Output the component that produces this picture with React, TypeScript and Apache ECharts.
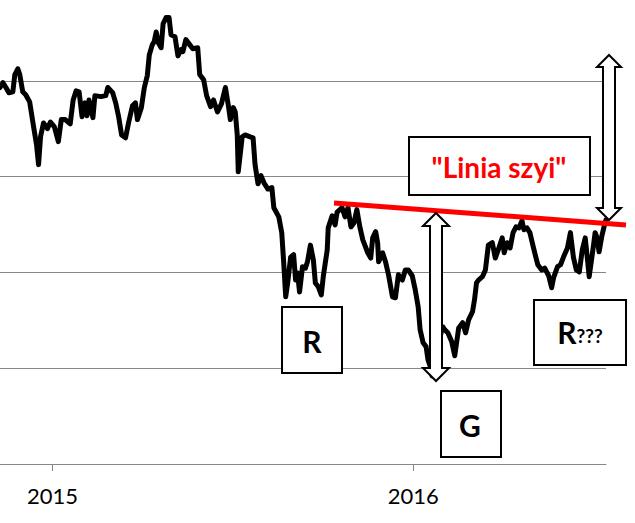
import React, { useEffect, useRef } from "react";
import * as echarts from "echarts";

// Price series (approximate index level)
const dates: string[] = [
  "2014-11-09","2014-11-12","2014-11-15","2014-11-18","2014-11-22","2014-11-24","2014-11-27","2014-11-29",
  "2014-12-02","2014-12-05","2014-12-09","2014-12-13","2014-12-16","2014-12-18","2014-12-20","2014-12-23",
  "2014-12-27","2014-12-30","2015-01-03","2015-01-07","2015-01-10","2015-01-14","2015-01-19","2015-01-22",
  "2015-01-25","2015-01-28","2015-01-31","2015-02-03","2015-02-05","2015-02-07","2015-02-11","2015-02-13",
  "2015-02-19","2015-02-24","2015-02-26","2015-03-03","2015-03-06","2015-03-09","2015-03-12","2015-03-16",
  "2015-03-19","2015-03-23","2015-03-26","2015-03-28","2015-04-01","2015-04-04","2015-04-07","2015-04-09",
  "2015-04-12","2015-04-14","2015-04-16","2015-04-18","2015-04-21","2015-04-23","2015-04-26","2015-04-29",
  "2015-05-01","2015-05-05","2015-05-08","2015-05-11","2015-05-13","2015-05-16","2015-05-20","2015-05-23",
  "2015-05-28","2015-05-30","2015-06-03","2015-06-06","2015-06-10","2015-06-13","2015-06-17","2015-06-21",
  "2015-06-25","2015-06-28","2015-06-30","2015-07-03","2015-07-05","2015-07-07","2015-07-08","2015-07-12",
  "2015-07-15","2015-07-20","2015-07-23","2015-07-25","2015-07-28","2015-07-31","2015-08-03","2015-08-07",
  "2015-08-11","2015-08-13","2015-08-18","2015-08-21","2015-08-23","2015-08-25","2015-08-27","2015-08-30",
  "2015-09-02","2015-09-04","2015-09-06","2015-09-08","2015-09-11","2015-09-14","2015-09-16","2015-09-19",
  "2015-09-22","2015-09-24","2015-09-27","2015-09-30","2015-10-02","2015-10-06","2015-10-07","2015-10-11",
  "2015-10-14","2015-10-16","2015-10-21","2015-10-24","2015-10-27","2015-10-30","2015-11-02","2015-11-05",
  "2015-11-08","2015-11-11","2015-11-16","2015-11-19","2015-11-21","2015-11-24","2015-11-26","2015-11-27",
  "2015-12-01","2015-12-04","2015-12-07","2015-12-11","2015-12-14","2015-12-17","2015-12-21","2015-12-24",
  "2015-12-27","2015-12-31","2016-01-03","2016-01-06","2016-01-08","2016-01-11","2016-01-14","2016-01-16",
  "2016-01-18","2016-01-20","2016-01-24","2016-01-27","2016-01-31","2016-02-02","2016-02-05","2016-02-09",
  "2016-02-12","2016-02-16","2016-02-20","2016-02-23","2016-02-26","2016-03-01","2016-03-03","2016-03-05",
  "2016-03-07","2016-03-11","2016-03-14","2016-03-17","2016-03-21","2016-03-24","2016-03-27","2016-03-31",
  "2016-04-02","2016-04-05","2016-04-08","2016-04-11","2016-04-14","2016-04-17","2016-04-20","2016-04-22",
  "2016-04-25","2016-04-28","2016-05-01","2016-05-04","2016-05-06","2016-05-10","2016-05-13","2016-05-17",
  "2016-05-20","2016-05-22","2016-05-26","2016-05-29","2016-06-01","2016-06-05","2016-06-08","2016-06-11",
  "2016-06-14","2016-06-17","2016-06-20","2016-06-23","2016-06-25","2016-06-27","2016-07-01","2016-07-03",
  "2016-07-05","2016-07-07","2016-07-10","2016-07-12","2016-07-14",
];

const values: number[] = [
  2286,2296,2286,2275,2277,2313,2325,2313,
  2277,2271,2256,2204,2166,2125,2183,2212,
  2200,2214,2204,2173,2219,2219,2210,2260,
  2279,2277,2225,2254,2227,2260,2223,2269,
  2267,2269,2286,2275,2254,2225,2187,2181,
  2212,2248,2254,2219,2244,2286,2311,2354,
  2375,2382,2402,2380,2369,2419,2432,2432,
  2396,2392,2352,2365,2361,2386,2375,2367,
  2369,2313,2302,2269,2246,2260,2235,2252,
  2286,2248,2219,2244,2235,2187,2110,2183,
  2187,2183,2181,2125,2085,2102,2087,2074,
  2077,2035,2016,1983,1920,1849,1878,1932,
  1937,1884,1899,1859,1912,1909,1922,1957,
  1926,1878,1870,1853,1891,1947,1993,2018,
  1999,2026,2035,2016,2035,1995,2003,2031,
  1995,1968,1941,1930,1972,1985,1962,1922,
  1941,1922,1895,1849,1847,1895,1884,1905,
  1905,1893,1864,1828,1780,1753,1745,1717,
  1705,1684,1728,1759,1786,1780,1774,1755,
  1726,1784,1795,1774,1801,1818,1843,1878,
  1884,1891,1905,1957,1962,1930,1947,1972,
  1941,1962,1951,1983,1995,1993,2008,1989,
  1993,1983,1957,1932,1916,1905,1909,1893,
  1868,1889,1912,1916,1932,1951,1983,1932,
  1905,1901,1947,1972,1932,1891,1951,1983,
  1972,1943,1978,1995,2010,
];

// Axis ticks
const yearTickDates: string[] = ["2015-01-01", "2016-01-01"];
const yearTickLabels: string[] = ["2015", "2016"];
const yMin = 1500;
const yMax = 2500;
const yStep = 200;

// Annotation texts
const necklineLabel = '"Linia szyi"';
const leftShoulderLabel = "R";
const headLabel = "G";
const rightShoulderMain = "R";
const rightShoulderSuffix = "???";

const BASE = Date.UTC(2015, 0, 1);
const dayOf = (s: string) => Math.round((Date.parse(s) - BASE) / 86400000);

// The chart canvas is shifted up so the top (2500) gridline falls just above the visible page.
const SHIFT = 15;

function doubleArrow(cx: number, yt: number, yb: number, h: number, hw: number, sw: number) {
  return [
    [cx, yt], [cx + hw, yt + h], [cx + sw, yt + h], [cx + sw, yb - h], [cx + hw, yb - h],
    [cx, yb], [cx - hw, yb - h], [cx - sw, yb - h], [cx - sw, yt + h], [cx - hw, yt + h],
  ];
}

export default function App() {
  const ref = useRef<HTMLDivElement>(null);

  useEffect(() => {
    if (!ref.current) return;
    const chart = echarts.init(ref.current, null, { renderer: "svg" });
    const seriesData = dates.map((d, i) => [dayOf(d), values[i]]);
    const tickDays = yearTickDates.map(dayOf);
    const labelMap: Record<number, string> = {};
    tickDays.forEach((d, i) => (labelMap[d] = yearTickLabels[i]));
    const font = "Lato, 'Open Sans', sans-serif";
    const boxStyle = { fill: "#ffffff", stroke: "#000000", lineWidth: 2 };
    const arrowStyle = { fill: "#ffffff", stroke: "#000000", lineWidth: 2, lineJoin: "miter" };
    const centered = { align: "center", verticalAlign: "middle", textAlign: "center", textVerticalAlign: "middle" };

    chart.setOption({
      animation: false,
      backgroundColor: "#ffffff",
      grid: { left: 0, right: 29, top: 0, bottom: 59, containLabel: false },
      xAxis: {
        type: "value",
        min: dayOf(dates[0]),
        max: dayOf(dates[dates.length - 1]),
        axisLine: { show: true, lineStyle: { color: "#868686", width: 1 } },
        axisTick: { show: true, length: 7, customValues: tickDays, lineStyle: { color: "#868686" } },
        axisLabel: {
          show: true,
          customValues: tickDays,
          margin: 20,
          fontSize: 22,
          fontFamily: font,
          color: "#000000",
          formatter: (v: number) => labelMap[v] ?? "",
        },
        splitLine: { show: false },
      },
      yAxis: {
        type: "value",
        min: yMin,
        max: yMax,
        interval: yStep,
        axisLine: { show: false },
        axisTick: { show: false },
        axisLabel: { show: false },
        splitLine: { show: true, lineStyle: { color: "#868686", width: 1 } },
      },
      series: [
        {
          type: "line",
          data: seriesData,
          showSymbol: false,
          symbol: "none",
          lineStyle: { color: "#000000", width: 5, join: "round", cap: "round" },
          z: 2,
        },
      ],
      graphic: [
        {
          type: "group",
          x: 0,
          y: SHIFT,
          z: 100,
          children: [
            {
              type: "line",
              z: 100,
              shape: { x1: 334, y1: 203, x2: 626, y2: 225 },
              style: { stroke: "#ff0000", lineWidth: 5 },
            },
            {
              type: "polygon",
              z: 101,
              shape: { points: doubleArrow(436, 213, 381, 13, 13, 6) },
              style: arrowStyle,
            },
            {
              type: "polygon",
              z: 101,
              shape: { points: doubleArrow(609, 55, 220, 12, 12, 6) },
              style: arrowStyle,
            },
            { type: "rect", z: 102, shape: { x: 409, y: 137, width: 181, height: 58 }, style: boxStyle },
            {
              type: "text",
              z: 103,
              style: {
                text: necklineLabel, x: 499, y: 167, ...centered,
                fill: "#ff0000", fontSize: 28, fontWeight: "bold", fontFamily: font,
              },
            },
            { type: "rect", z: 102, shape: { x: 282, y: 307, width: 60, height: 66 }, style: boxStyle },
            {
              type: "text",
              z: 103,
              style: {
                text: leftShoulderLabel, x: 312, y: 341, ...centered,
                fill: "#000000", fontSize: 30, fontWeight: "bold", fontFamily: font,
              },
            },
            { type: "rect", z: 102, shape: { x: 441, y: 391, width: 60, height: 66 }, style: boxStyle },
            {
              type: "text",
              z: 103,
              style: {
                text: headLabel, x: 470, y: 425, ...centered,
                fill: "#000000", fontSize: 30, fontWeight: "bold", fontFamily: font,
              },
            },
            { type: "rect", z: 102, shape: { x: 534, y: 300, width: 92, height: 65 }, style: boxStyle },
            {
              type: "text",
              z: 103,
              style: {
                text: "{a|" + rightShoulderMain + "}{b|" + rightShoulderSuffix + "}", x: 580, y: 332, ...centered,
                fill: "#000000",
                rich: {
                  a: { fontSize: 30, fontWeight: "bold", fontFamily: font, fill: "#000000", color: "#000000" },
                  b: { fontSize: 19, fontWeight: "bold", fontFamily: font, fill: "#000000", color: "#000000", padding: [7, 0, 0, 0] },
                },
              },
            },
          ],
        },
      ],
    });
    return () => chart.dispose();
  }, []);

  return (
    <div
      ref={ref}
      style={{ position: "fixed", left: 0, top: -SHIFT, width: 635, height: 523 + SHIFT, background: "#fff" }}
    />
  );
}
